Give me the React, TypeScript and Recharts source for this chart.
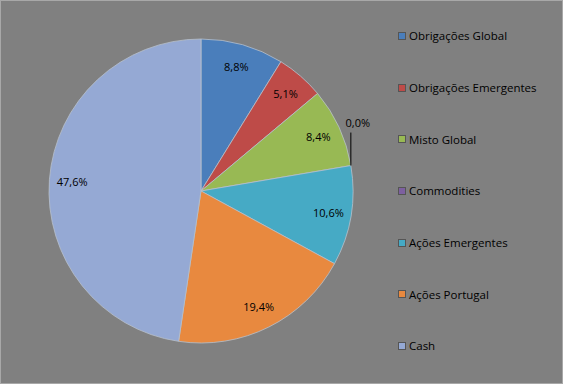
import { PieChart, Pie, Cell, Legend } from "recharts";

const categories = [
  "Obrigações Global",
  "Obrigações Emergentes",
  "Misto Global",
  "Commodities",
  "Ações Emergentes",
  "Ações Portugal",
  "Cash",
];
const values = [8.8, 5.1, 8.4, 0.0, 10.6, 19.4, 47.6];
const colors = [
  "#4A7EBB",
  "#BE4B48",
  "#98B954",
  "#7D60A0",
  "#46AAC5",
  "#E8893F",
  "#95A9D4",
];

const chartData = categories.map((name, i) => ({ name, value: values[i] }));

const RADIAN = Math.PI / 180;
const fontFamily = "'Open Sans', 'DejaVu Sans', sans-serif";

function fmt(v: number) {
  return v.toFixed(1).replace(".", ",") + "%";
}

function renderLabel(props: any) {
  const { cx, cy, midAngle, outerRadius, value } = props;
  if (value === 0) {
    // leader line straight up from the slice edge
    const x = cx + outerRadius * Math.cos(-midAngle * RADIAN);
    const y = cy + outerRadius * Math.sin(-midAngle * RADIAN);
    return (
      <g>
        <line x1={x} y1={y} x2={x} y2={y - 33} stroke="#000" strokeWidth={1} />
        <text
          x={x + 7}
          y={y - 39}
          textAnchor="middle"
          fontSize={11}
          fontFamily={fontFamily}
          fill="#000"
        >
          {fmt(value)}
        </text>
      </g>
    );
  }
  const r = outerRadius * 0.85;
  const x = cx + r * Math.cos(-midAngle * RADIAN);
  const y = cy + r * Math.sin(-midAngle * RADIAN);
  return (
    <text
      x={x}
      y={y}
      textAnchor="middle"
      dominantBaseline="central"
      fontSize={11}
      fontFamily={fontFamily}
      fill="#000"
    >
      {fmt(value)}
    </text>
  );
}

function LegendContent() {
  return (
    <div style={{ fontFamily, fontSize: 11.5, color: "#000" }}>
      {categories.map((name, i) => (
        <div
          key={name}
          style={{
            display: "flex",
            alignItems: "center",
            height: 51.7,
          }}
        >
          <span
            style={{
              display: "inline-block",
              width: 6,
              height: 6,
              background: colors[i],
              border: "1px solid #555",
              marginRight: 3,
            }}
          />
          <span>{name}</span>
        </div>
      ))}
    </div>
  );
}

export default function App() {
  return (
    <div
      style={{
        position: "absolute",
        top: 0,
        left: 0,
        width: 563,
        height: 384,
        background: "#808080",
        border: "1px solid #a8a8a8",
        boxSizing: "border-box",
      }}
    >
      <PieChart width={561} height={382}>
        <Pie
          data={chartData}
          dataKey="value"
          nameKey="name"
          cx={195}
          cy={185}
          outerRadius={152}
          startAngle={90}
          endAngle={-270}
          stroke="#b8c0cc"
          strokeWidth={0.8}
          label={renderLabel}
          labelLine={false}
          isAnimationActive={false}
        >
          {chartData.map((d, i) => (
            <Cell key={d.name} fill={colors[i]} />
          ))}
        </Pie>
        <Legend
          layout="vertical"
          content={<LegendContent />}
          wrapperStyle={{ position: "absolute", left: 397, top: 9, width: 165 }}
        />
      </PieChart>
    </div>
  );
}
